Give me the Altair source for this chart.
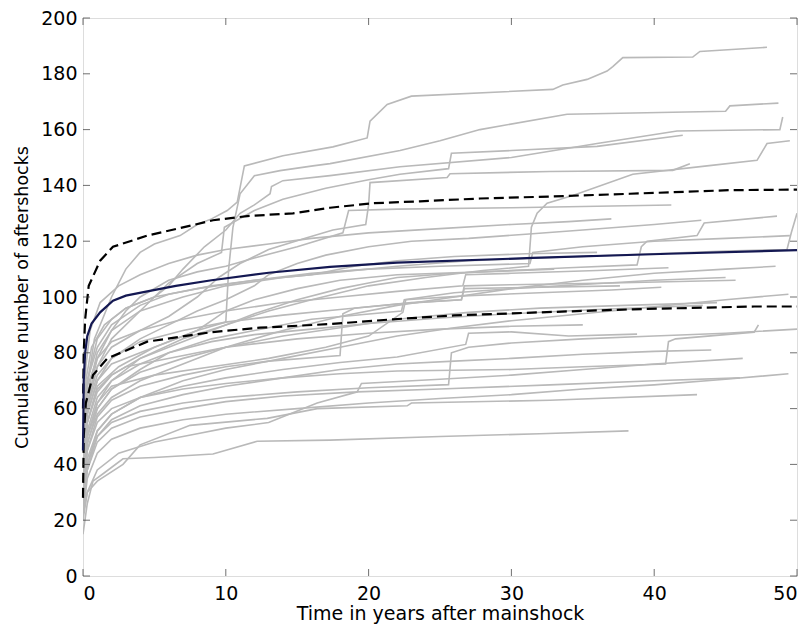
import altair as alt
import pandas as pd

# ---------------- data ----------------
gray_lines = [
    [(0,40),(0.2,65),(0.8,85),(2,100),(3,110),(4,116),(5,119),(6.8,122),(8,126),(9,128),(10.1,131),(10.8,134),(11.3,147),(14,150.6),(17.5,153.8),(19.9,157),(20.1,163),(21.3,169),(23,172),(32.9,174.4),(33.6,176),(35.3,178),(36.7,181),(37.1,182.6),(37.8,185.8),(42.7,186),(43.2,188),(47.9,189.5)],
    [(0,35),(0.3,55),(1,68),(2.5,75),(5,82),(8,88),(10,91),(10.2,110),(10.5,125),(11,137),(12,143.5),(13.8,145.3),(16.1,147),(17.3,147.8),(22.2,152.5),(25,156),(27.8,160),(33.9,165.5),(45,166.6),(45.3,168.5),(48.7,169.5)],
    [(0,45),(0.3,70),(1,85),(2,92),(3,96),(4,98),(5,100),(6,104),(7,110),(8.5,118),(10,124),(11,130),(12,133),(13.1,137),(13.2,139.6),(14,141.7),(17.3,143.5),(22.2,146.7),(30,150),(36,155),(41.6,159.5),(48.8,160),(49,164.5)],
    [(0,40),(0.3,62),(1,75),(2,82),(4,88),(6,93),(8,100),(9.5,107),(11,112),(13,117),(15.5,121),(17.5,124),(19.8,126),(20,133),(20.1,141),(25.5,142.8),(25.7,144.2),(32.7,145),(41.3,145.4),(42.5,147.8)],
    [(0,38),(0.3,60),(1,75),(2,85),(4,95),(6,105),(8,112),(9.7,116),(9.9,125),(12,131),(14,135),(17,139),(20,142),(22.2,144),(25.6,146),(25.8,151.5),(30,152.5),(36,154),(42,158)],
    [(0,30),(0.3,50),(1,62),(2,70),(4,78),(7,85),(10,90),(13,95),(16,99),(20,104),(24,107),(28,109.5),(31.2,111),(31.4,125),(31.8,130),(32.5,133.6),(34.3,136.4),(38.5,144),(43.7,147),(47.2,149),(47.9,155),(49.5,156)],
    [(0,40),(0.3,62),(1,78),(2,88),(3,95),(4,100),(6,106),(8,109),(10,111),(12,114),(15,118),(18.2,123),(18.6,131),(22,131.5),(30,132),(36,132.5),(41.2,133)],
    [(0,35),(0.3,55),(1,66),(2,72),(4,78),(6,82),(9,88),(12,94),(15,99),(18,103),(20,105),(22,107),(26,108.5),(30,109.5),(34,110.5),(38.8,111.5),(39.1,118),(39.5,120),(43,122),(43.5,126.5),(48.6,129)],
    [(0,42),(0.3,65),(1,80),(2,88),(4,95),(7,100),(10,104),(14,107),(18,109),(22,111),(27,113),(32,114),(40,115.5),(45,116.5),(49.3,117),(49.6,123),(50,130)],
    [(0,38),(0.3,58),(1,70),(2,78),(4,85),(6,90),(8,95),(10,99),(12,104),(13,108),(15,112),(17,115),(20,118),(23,120),(27,121),(31,122.5),(35,124),(40,126),(43.3,127.5)],
    [(0,30),(0.3,48),(1,58),(2,64),(4,70),(7,76),(10,82),(14,88),(18,93),(22,97),(26,100),(30,103),(35,106),(40,108.5),(45,110),(48.5,111)],
    [(0,33),(0.3,50),(1,60),(2,67),(4,74),(6,80),(9,85),(12,88),(16,92),(22.3,95),(22.5,99),(26,101.5),(30,103),(35,104.5),(40,106),(45,107)],
    [(0,28),(0.3,45),(1,57),(2,63),(4,68),(7,72),(10,75),(13,77),(18,79),(18.2,94),(19,96),(23,98),(26.5,99),(26.7,104),(30,104.4),(37,105),(45.7,106)],
    [(0,25),(0.3,40),(1,52),(2,58),(4,64),(7,70),(10,74),(14,78),(18,82),(22,86),(26,89),(30,91.5),(35,94),(40,96.5),(45,99),(49.4,101)],
    [(0,30),(0.3,47),(1,60),(2,67),(4,73),(7,78),(10,82),(14,86),(18,89),(22,92),(27,94.5),(32,96),(38,97),(44.4,98)],
    [(0,35),(0.3,52),(1,64),(2,70),(4,76),(6,80),(9,84),(12,86.5),(16,88.5),(20,90.5),(25,92.5),(30,94),(36,95.5),(43.4,97)],
    [(0,40),(0.3,60),(1,72),(2,78),(4,84),(7,88),(10,91),(14,93.5),(18,95.5),(22,97.5),(26.5,99),(26.7,103),(30,103.3),(37.6,104)],
    [(0,27),(0.3,42),(1,52),(2,58),(4,64),(7,68),(10,71),(14,74),(18,76.5),(22,78.5),(26.8,83),(27,87),(30,87.5),(34,86),(38.8,86.7)],
    [(0,30),(0.3,45),(1,55),(2,60),(4,64),(7,67),(10,69),(14,71),(18,72.5),(22,73.5),(30,74),(35,75),(40.8,76),(41,84),(41.5,85),(47,87.4),(47.3,90)],
    [(0,26),(0.3,40),(1,50),(2,55),(4,59),(7,62),(10,64),(15,66),(20,67.5),(25.6,68.6),(25.8,80),(27,82),(30,83.5),(35,85),(40,86),(45,87),(50,88.5)],
    [(0,25),(0.3,38),(1,48),(2,53),(4,57),(7,60),(10,62.5),(14,64.5),(19.2,66),(19.5,69),(25,70.5),(30,72),(35,74),(40,76),(46.2,78)],
    [(0,22),(0.3,35),(1,44),(2,49),(4,53),(7,56),(10,58),(15,60),(20,62),(25,63.6),(30,65),(35,67),(40,68.5),(45,70.5),(49.4,72.5)],
    [(0,22),(0.3,30),(1,34),(2.8,40),(4,47),(7.5,54),(12.9,56.5),(16.4,60),(22.7,61),(23,62),(32.7,63),(43,65)],
    [(0,15),(0.3,26),(0.7,34),(1.5,37),(2.8,42),(5,42.5),(9.1,43.7),(12.2,48.3),(17.3,48.7),(25,50),(32,51),(38.2,52)],
    [(0,30),(0.3,50),(1,62),(2,68),(5,72),(9,75),(13,78),(17,82),(20,86),(22.4,94.5),(22.6,99),(27,100.5),(32,101.5),(37,102.5),(40.5,103.5)],
    [(0,45),(0.3,68),(1,78),(2,84),(4,88),(7,92),(10,95),(14,98),(18,100),(22,102),(26.6,104),(26.8,108),(30,108.5),(36,109.5),(41,110.5)],
    [(0,50),(0.2,70),(0.6,82),(1.5,90),(3,96),(5,100),(8,103),(12,106),(16,108.5),(20,110),(25,111),(31.3,112),(31.5,116),(35,118),(40,120),(45,121),(49.5,122)],
    [(0,55),(0.2,75),(0.5,88),(1.2,98),(2.5,104),(4,108),(6,112),(8,115),(10,117),(13,119),(16,121),(20,123),(25,124.5),(30,126),(34,127),(37,128)],
    [(0,48),(0.3,70),(1,82),(2,90),(4,97),(6,101),(9,104),(12,106),(16,108),(19,111),(22,113),(26,114.5),(31,115.5),(36,116)],
    [(0,25),(0.3,38),(1,50),(2,56),(4,61),(7,65),(10,68),(14,71),(18,74),(22,76),(26,77),(30,78),(35,79.5),(40,80.5),(44,81)],
    [(0,20),(0.3,30),(1,38),(2.5,44),(5,48),(8,51),(10,53),(13,55),(16.4,62),(19.2,66),(25,67),(32.7,68.5),(40,70),(46,71)],
    [(0,35),(0.3,55),(1,67),(2,72),(3,75),(5,77),(8,80),(10,82),(15,85),(20,87),(25,88.5),(30,89.5),(35,90)],
    [(0,38),(0.3,58),(1,70),(2,76),(4,80),(6,84),(8,88),(10,95),(12,99),(15,103),(18,106),(22,108),(28,109),(33,110)],
]

mean_x = [0, 0.05, 0.15, 0.3, 0.6, 1.2, 2.1, 3, 4.5, 6.5, 9, 13, 17.3, 22, 31.5, 41, 50]
mean_y = [45, 70, 80, 86, 90.5, 94.5, 98.7, 100.5, 102, 104, 106, 108.7, 110.8, 112.3, 114, 115.5, 116.8]

upper_x = [0, 0.05, 0.15, 0.4, 1.2, 2.1, 4.5, 6.8, 9.1, 11.5, 14.7, 17.3, 20.3, 23.6, 27.8, 32.6, 38.3, 45.3, 50]
upper_y = [60, 80, 92, 104, 113, 118, 122, 124.7, 127.5, 129, 130, 132, 133.6, 134.3, 135.3, 136, 137, 138.3, 138.5]

lower_x = [0, 0.05, 0.2, 0.7, 1.7, 4.5, 9, 12.4, 17.3, 21.7, 26, 32, 38.5, 47, 50]
lower_y = [28, 50, 62, 72, 78, 84, 87.4, 89, 90.3, 92, 93.4, 94.5, 95.6, 96.6, 96.6]

x_ticks = [0, 10, 20, 30, 40, 50]
y_ticks = [0, 20, 40, 60, 80, 100, 120, 140, 160, 180, 200]

# ---------------- build tables ----------------
rows = []
for i, line in enumerate(gray_lines):
    for k, (x, y) in enumerate(line):
        rows.append({"s": f"g{i}", "x": x, "y": y, "o": k})
gray_df = pd.DataFrame(rows)
mean_df = pd.DataFrame({"x": mean_x, "y": mean_y, "o": range(len(mean_x))})
q_df = pd.concat([
    pd.DataFrame({"s": "upper", "x": upper_x, "y": upper_y, "o": range(len(upper_x))}),
    pd.DataFrame({"s": "lower", "x": lower_x, "y": lower_y, "o": range(len(lower_x))}),
])

W, H = 714, 558
xs = alt.Scale(domain=[0, 50], nice=False, zero=False)
ys = alt.Scale(domain=[0, 200], nice=False, zero=False)

FONT = "DejaVu Sans"
xax = alt.Axis(values=x_ticks, grid=False, ticks=False, domain=False, labelFontSize=19,
               labelFont=FONT, labelColor="black", labelPadding=8, title="Time in years after mainshock",
               titleFont=FONT, titleFontSize=19, titleFontWeight="normal", titleColor="black", titlePadding=1)
yax = alt.Axis(values=y_ticks, grid=False, ticks=False, domain=False, labelFontSize=19,
               labelFont=FONT, labelColor="black", labelPadding=6, title="Cumulative number of aftershocks",
               titleFont=FONT, titleFontSize=17.5, titleFontWeight="normal", titleColor="black", titlePadding=9)

gray = alt.Chart(gray_df).mark_line(color="#b9b9b9", strokeWidth=1.6, clip=True).encode(
    x=alt.X("x:Q", scale=xs, axis=xax),
    y=alt.Y("y:Q", scale=ys, axis=yax),
    detail="s:N",
    order="o:Q",
)
quant = alt.Chart(q_df).mark_line(color="black", strokeWidth=2.2, strokeDash=[10, 5]).encode(
    x=alt.X("x:Q", scale=xs), y=alt.Y("y:Q", scale=ys), detail="s:N", order="o:Q")
mean = alt.Chart(mean_df).mark_line(color="#141852", strokeWidth=2.2).encode(
    x=alt.X("x:Q", scale=xs), y=alt.Y("y:Q", scale=ys), order="o:Q")

xt = pd.DataFrame({"v": x_ticks})
yt = pd.DataFrame({"v": y_ticks})
TC = "#333333"
tick_b = alt.Chart(xt).mark_tick(color=TC, size=7, thickness=1, orient="vertical").encode(
    x=alt.X("v:Q", scale=xs), y=alt.value(H - 3.5))
tick_t = alt.Chart(xt).mark_tick(color=TC, size=7, thickness=1, orient="vertical").encode(
    x=alt.X("v:Q", scale=xs), y=alt.value(3.5))
tick_l = alt.Chart(yt).mark_tick(color=TC, size=7, thickness=1, orient="horizontal").encode(
    y=alt.Y("v:Q", scale=ys), x=alt.value(3.5))
tick_r = alt.Chart(yt).mark_tick(color=TC, size=7, thickness=1, orient="horizontal").encode(
    y=alt.Y("v:Q", scale=ys), x=alt.value(W - 3.5))

chart = alt.layer(gray, quant, mean, tick_b, tick_t, tick_l, tick_r).properties(
    width=W, height=H,
    autosize=alt.AutoSizeParams(type="none"),
    padding={"left": 75, "top": 10, "right": 6, "bottom": 50},
).configure_view(stroke="#222222", strokeWidth=1.2).configure(background="white")

chart.save("out.html", embed_options={"renderer": "svg", "actions": False})
